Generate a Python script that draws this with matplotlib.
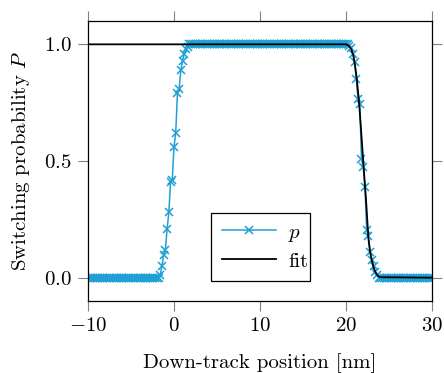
import numpy as np
import matplotlib
matplotlib.use("Agg")
import matplotlib.pyplot as plt

# ---- data ----
x_start, x_stop, x_step = -10.0, 30.0, 0.2
p_values = (
    [0.0] * 42
    + [0.013, 0.05, 0.098, 0.12, 0.21, 0.28, 0.41, 0.42, 0.56, 0.62,
       0.79, 0.81, 0.89, 0.93, 0.96, 0.98, 0.99]
    + [1.0] * 93
    + [0.995, 0.985, 0.96, 0.925, 0.85, 0.765, 0.745, 0.51, 0.476, 0.39,
       0.205, 0.18, 0.112, 0.077, 0.048, 0.025, 0.013]
    + [0.0] * 32
)
fit_x = [-10.0, 20.0, 20.3, 20.6, 20.85, 21.05, 21.25, 21.5, 21.7, 22.0,
         22.33, 22.6, 22.8, 23.0, 23.2, 23.4, 23.7, 24.0, 30.0]
fit_y = [1.0, 1.0, 0.995, 0.98, 0.953, 0.91, 0.853, 0.76, 0.66, 0.5,
         0.333, 0.17, 0.11, 0.075, 0.045, 0.025, 0.008, 0.002, 0.0]
xticks = [-10, 0, 10, 20, 30]
xtick_labels = ['$-10$', '$0$', '$10$', '$20$', '$30$']
yticks = [0.0, 0.5, 1.0]
ytick_labels = ['$0.0$', '$0.5$', '$1.0$']

positions = np.linspace(x_start, x_stop, len(p_values))

plt.rcParams['mathtext.fontset'] = 'cm'
plt.rcParams['font.family'] = 'serif'
plt.rcParams['font.serif'] = ['cmr10', 'DejaVu Serif']
plt.rcParams['axes.unicode_minus'] = False

W, H = 444, 373
fig = plt.figure(figsize=(W / 100, H / 100), dpi=100)
ax = fig.add_axes([88 / W, 1 - 301 / H, (432 - 88) / W, (301 - 21) / H])

blue = '#1fa0d4'
ax.plot(positions, p_values, color=blue, lw=1.1, marker='x', ms=6.2,
        mew=1.1, label='$p$', zorder=2)
ax.plot(fit_x, fit_y, color='black', lw=1.3, label='fit', zorder=3)

ax.set_xlim(-10, 30)
ax.set_ylim(-0.1, 1.1)
ax.set_xticks(xticks, xtick_labels)
ax.set_yticks(yticks, ytick_labels)
ax.tick_params(direction='out', length=7.5, width=0.8, color='#808080',
               labelsize=15, top=True, right=True, pad=4)
for s in ax.spines.values():
    s.set_linewidth(0.9)
    s.set_color('black')

ax.set_xlabel('Down-track position [nm]', fontsize=15, labelpad=13)
ax.set_ylabel('Switching probability $P$', fontsize=15, labelpad=9)

leg = ax.legend(loc='lower left', bbox_to_anchor=(0.358, 0.071, 0.287, 0.254),
                mode='expand', fontsize=15, frameon=True, fancybox=False,
                edgecolor='black', framealpha=1, borderpad=0.5,
                handlelength=2.6, handletextpad=0.6, labelspacing=0.4,
                borderaxespad=0)
leg.get_frame().set_linewidth(0.9)

fig.savefig('out.png', dpi=100)
